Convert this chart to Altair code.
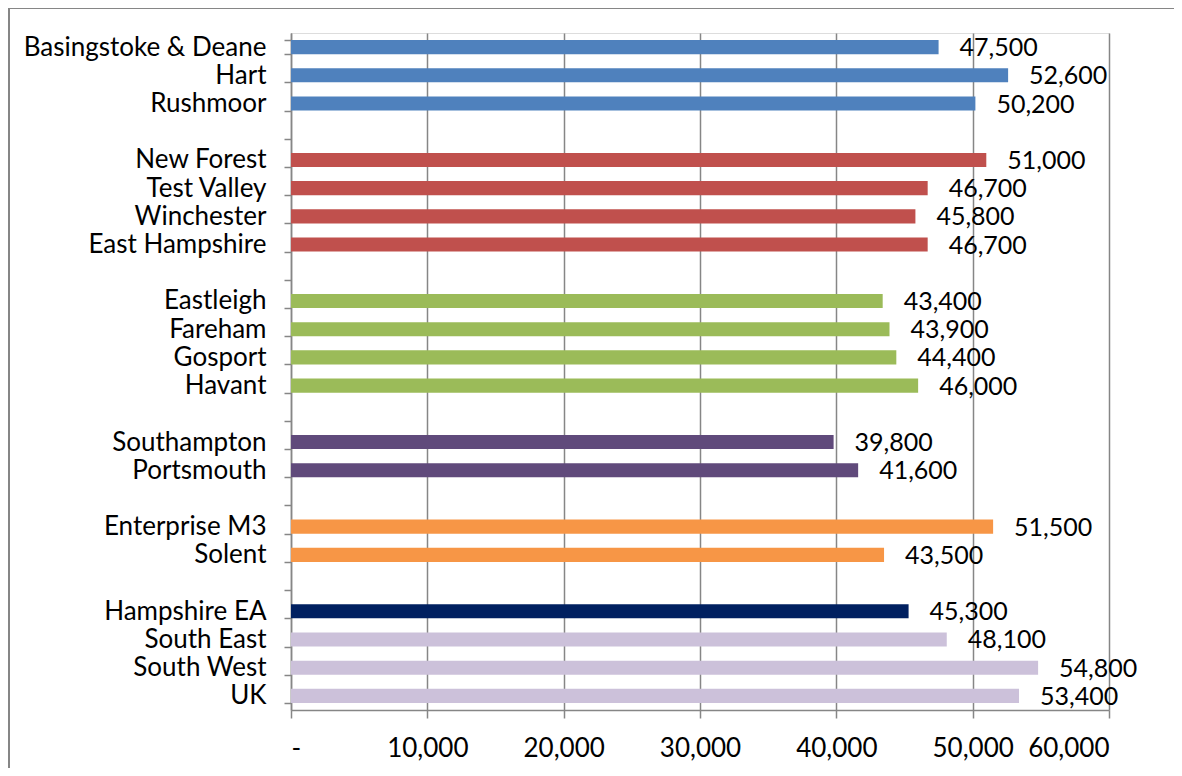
import altair as alt
import pandas as pd

# Rows in display order (blank strings are spacer rows between groups)
rows = ["Basingstoke & Deane", "Hart", "Rushmoor", " ",
        "New Forest", "Test Valley", "Winchester", "East Hampshire", "  ",
        "Eastleigh", "Fareham", "Gosport", "Havant", "   ",
        "Southampton", "Portsmouth", "    ",
        "Enterprise M3", "Solent", "     ",
        "Hampshire EA", "South East", "South West", "UK"]

areas = ["Basingstoke & Deane", "Hart", "Rushmoor",
         "New Forest", "Test Valley", "Winchester", "East Hampshire",
         "Eastleigh", "Fareham", "Gosport", "Havant",
         "Southampton", "Portsmouth",
         "Enterprise M3", "Solent",
         "Hampshire EA", "South East", "South West", "UK"]
values = [47500, 52600, 50200,
          51000, 46700, 45800, 46700,
          43400, 43900, 44400, 46000,
          39800, 41600,
          51500, 43500,
          45300, 48100, 54800, 53400]
groups = ["North", "North", "North",
          "Rural", "Rural", "Rural", "Rural",
          "South", "South", "South", "South",
          "City", "City",
          "LEP", "LEP",
          "EA", "Region", "Region", "Region"]
group_names = ["North", "Rural", "South", "City", "LEP", "EA", "Region"]
group_colors = ["#4F81BD", "#C0504D", "#9BBB59", "#604A7B", "#F79646", "#002060", "#CCC1DA"]
x_ticks = [0, 10000, 20000, 30000, 40000, 50000, 60000]

df = pd.DataFrame({"area": areas, "value": values, "group": groups})
df["label"] = [f"{v:,}" for v in values]

FONT = "Lato"
GRID = "#868686"

y_enc = alt.Y("area:N", sort=rows,
              scale=alt.Scale(domain=rows, paddingInner=0.5, paddingOuter=0.25),
              axis=alt.Axis(title=None, tickBand="extent", labelFont=FONT, labelFontSize=26,
                            labelColor="black", labelPadding=18, tickSize=7, tickColor=GRID,
                            domainColor=GRID, domainWidth=1.5, tickWidth=1.5, grid=False,
                            labelLimit=400))
x_enc = alt.X("value:Q",
              scale=alt.Scale(domain=[0, 60000], nice=False),
              axis=alt.Axis(title=None, values=x_ticks, labelFont=FONT, labelFontSize=26,
                            labelColor="black", labelPadding=17, tickSize=8, tickColor=GRID,
                            tickWidth=1.5, domainColor=GRID, domainWidth=1.5,
                            gridColor=GRID, gridWidth=1.5,
                            labelExpr="datum.value == 0 ? '-' : format(datum.value, ',')"))

bars = alt.Chart(df).mark_bar().encode(
    x=x_enc,
    y=y_enc,
    color=alt.Color("group:N", scale=alt.Scale(domain=group_names, range=group_colors), legend=None),
)

labels = alt.Chart(df).mark_text(align="left", baseline="middle", dx=21, dy=1,
                                 font=FONT, fontSize=25, color="black").encode(
    x="value:Q", y=alt.Y("area:N", sort=rows), text="label:N")

frame_left = alt.Chart(df).mark_rect(color=GRID).encode(
    x=alt.value(-283), x2=alt.value(-281.5), y=alt.value(-26), y2=alt.value(760))
frame_top = alt.Chart(df).mark_rect(color=GRID).encode(
    x=alt.value(-283), x2=alt.value(900), y=alt.value(-26), y2=alt.value(-24.5))

chart = alt.layer(frame_left, frame_top, bars, labels).properties(
    width=818, height=677,
    autosize=alt.AutoSizeParams(type="none"),
    padding={"left": 283, "top": 25, "right": 65, "bottom": 58},
).configure_view(stroke=None).configure(background="white")

chart.save("out.html", embed_options={"renderer": "svg", "actions": False})
